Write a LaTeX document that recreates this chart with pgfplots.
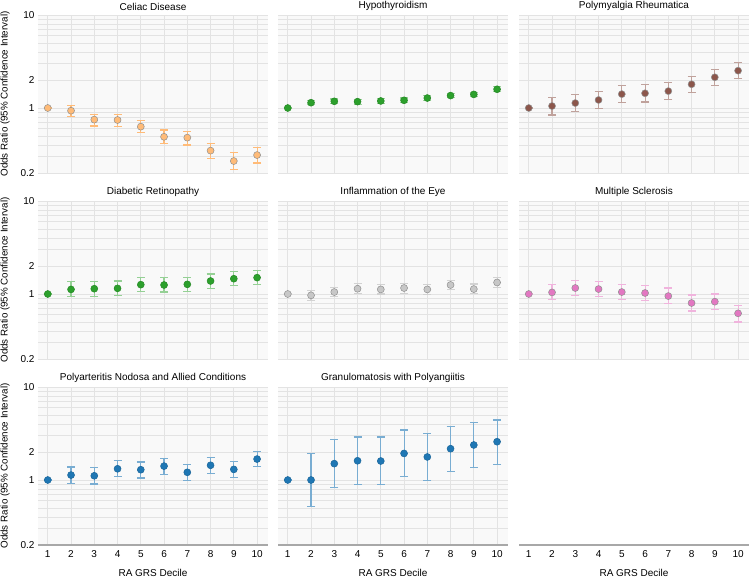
\documentclass[border=0pt]{standalone}
\usepackage{fontspec}
\setmainfont{Liberation Sans}
\usepackage{pgfplots}
\usepackage{pgfplotstable}
\pgfplotsset{compat=1.18}

\definecolor{bgc}{HTML}{F9F9F9}
\definecolor{gridc}{HTML}{E3E3E3}
\definecolor{axc}{HTML}{A8A8A8}
\definecolor{edgec}{HTML}{8F8F8F}
\definecolor{corange}{HTML}{FFBB78}
\definecolor{cgreen}{HTML}{2CA02C}
\definecolor{cbrown}{HTML}{8C564B}
\definecolor{cgray}{HTML}{C7C7C7}
\definecolor{cpink}{HTML}{E377C2}
\definecolor{cblue}{HTML}{1F77B4}

% x = decile, y = odds ratio, lo/hi = 95% CI
\pgfplotstableread{
x y lo hi
1 1.00 1.00 1.00
2 0.936 0.81 1.07
3 0.75 0.64 0.855
4 0.743 0.635 0.855
5 0.63 0.54 0.737
6 0.49 0.417 0.58
7 0.48 0.40 0.56
8 0.348 0.288 0.417
9 0.269 0.217 0.334
10 0.312 0.256 0.38
}\tabceliac
\pgfplotstableread{
x y lo hi
1 1.00 1.00 1.00
2 1.14 1.08 1.21
3 1.18 1.11 1.25
4 1.17 1.10 1.24
5 1.19 1.12 1.26
6 1.21 1.14 1.28
7 1.28 1.21 1.35
8 1.36 1.29 1.43
9 1.40 1.33 1.48
10 1.59 1.50 1.69
}\tabhypo
\pgfplotstableread{
x y lo hi
1 1.00 1.00 1.00
2 1.05 0.84 1.31
3 1.13 0.91 1.39
4 1.22 0.98 1.52
5 1.41 1.14 1.74
6 1.44 1.16 1.77
7 1.52 1.24 1.88
8 1.80 1.47 2.20
9 2.14 1.75 2.60
10 2.52 2.07 3.07
}\tabpmr
\pgfplotstableread{
x y lo hi
1 1.00 1.00 1.00
2 1.12 0.936 1.35
3 1.14 0.95 1.36
4 1.15 0.96 1.38
5 1.26 1.06 1.50
6 1.25 1.05 1.49
7 1.27 1.07 1.52
8 1.38 1.15 1.64
9 1.46 1.23 1.74
10 1.50 1.26 1.78
}\tabretino
\pgfplotstableread{
x y lo hi
1 1.00 1.00 1.00
2 0.967 0.855 1.086
3 1.05 0.93 1.18
4 1.14 1.01 1.29
5 1.12 1.00 1.26
6 1.16 1.02 1.30
7 1.12 0.98 1.26
8 1.25 1.11 1.41
9 1.13 1.01 1.28
10 1.33 1.18 1.50
}\tabeye
\pgfplotstableread{
x y lo hi
1 1.00 1.00 1.00
2 1.04 0.87 1.26
3 1.16 0.96 1.39
4 1.13 0.94 1.36
5 1.05 0.87 1.26
6 1.025 0.85 1.23
7 0.95 0.79 1.16
8 0.80 0.656 0.975
9 0.827 0.68 1.00
10 0.62 0.50 0.76
}\tabms
\pgfplotstableread{
x y lo hi
1 1.00 1.00 1.00
2 1.13 0.92 1.38
3 1.11 0.905 1.37
4 1.32 1.086 1.61
5 1.29 1.05 1.56
6 1.41 1.15 1.71
7 1.21 0.99 1.47
8 1.44 1.18 1.75
9 1.30 1.07 1.57
10 1.68 1.40 2.02
}\tabpan
\pgfplotstableread{
x y lo hi
1 1.00 1.00 1.00
2 1.00 0.52 1.93
3 1.50 0.83 2.73
4 1.61 0.90 2.90
5 1.60 0.89 2.90
6 1.93 1.10 3.45
7 1.77 0.99 3.15
8 2.17 1.24 3.77
9 2.38 1.37 4.13
10 2.58 1.47 4.42
}\tabgpa

\begin{document}
\begin{tikzpicture}
\path[use as bounding box] (0,0) rectangle (750pt,-578pt);

% ---------- row 1 ----------
\begin{axis}[anchor=north west, at={(38pt,-15pt)},
    scale only axis, width=230pt, height=158pt,
    ymode=log, ymin=0.2, ymax=10, xmin=0.58, xmax=10.47,
    xtick={1,2,3,4,5,6,7,8,9,10}, xticklabels={},
    ytick={0.2,1,2,10}, yticklabels={0.2,1,2,10},
    minor ytick={0.3,0.4,0.5,0.6,0.7,0.8,0.9,3,4,5,6,7,8,9},
    grid=both, major grid style={gridc, line width=0.9pt}, minor grid style={gridc, line width=0.7pt},
    axis background/.style={fill=bgc}, axis line style={draw=none},
    major tick length=0pt, minor tick length=0pt, clip=false,
    title style={font=\fontsize{10}{12}\selectfont, yshift=-5pt},
    tick label style={font=\fontsize{10}{12}\selectfont},
    ylabel={Odds Ratio (95\% Confidence Interval)},
    ylabel style={font=\fontsize{9.8}{11}\selectfont, at={(axis description cs:-0.1435,0.5)}, anchor=center},
    title={Celiac Disease}]
\addplot[only marks, mark=*, mark size=3.5pt, mark options={fill=corange, draw=edgec, line width=0.5pt},
  error bars/.cd, y dir=both, y explicit, error mark=-,
  error bar style={corange, line width=1.1pt},
  error mark options={rotate=90, corange, line width=1.1pt, mark size=4pt}]
  table[x=x, y=y, y error plus expr=\thisrow{hi}-\thisrow{y}, y error minus expr=\thisrow{y}-\thisrow{lo}] {\tabceliac};
\end{axis}

\begin{axis}[anchor=north west, at={(278pt,-15pt)},
    scale only axis, width=230pt, height=158pt,
    ymode=log, ymin=0.2, ymax=10, xmin=0.58, xmax=10.47,
    xtick={1,2,3,4,5,6,7,8,9,10}, xticklabels={},
    ytick={0.2,1,2,10}, yticklabels={},
    minor ytick={0.3,0.4,0.5,0.6,0.7,0.8,0.9,3,4,5,6,7,8,9},
    grid=both, major grid style={gridc, line width=0.9pt}, minor grid style={gridc, line width=0.7pt},
    axis background/.style={fill=bgc}, axis line style={draw=none},
    major tick length=0pt, minor tick length=0pt, clip=false,
    title style={font=\fontsize{10}{12}\selectfont, yshift=-5pt},
    title={Hypothyroidism}]
\addplot[only marks, mark=*, mark size=3.5pt, mark options={fill=cgreen, draw=cgreen!85!black, line width=0.5pt},
  error bars/.cd, y dir=both, y explicit, error mark=-,
  error bar style={cgreen!45, line width=1.1pt},
  error mark options={rotate=90, cgreen!45, line width=1.1pt, mark size=4pt}]
  table[x=x, y=y, y error plus expr=\thisrow{hi}-\thisrow{y}, y error minus expr=\thisrow{y}-\thisrow{lo}] {\tabhypo};
\end{axis}

\begin{axis}[anchor=north west, at={(519pt,-15pt)},
    scale only axis, width=230pt, height=158pt,
    ymode=log, ymin=0.2, ymax=10, xmin=0.58, xmax=10.47,
    xtick={1,2,3,4,5,6,7,8,9,10}, xticklabels={},
    ytick={0.2,1,2,10}, yticklabels={},
    minor ytick={0.3,0.4,0.5,0.6,0.7,0.8,0.9,3,4,5,6,7,8,9},
    grid=both, major grid style={gridc, line width=0.9pt}, minor grid style={gridc, line width=0.7pt},
    axis background/.style={fill=bgc}, axis line style={draw=none},
    major tick length=0pt, minor tick length=0pt, clip=false,
    title style={font=\fontsize{10}{12}\selectfont, yshift=-5pt},
    title={Polymyalgia Rheumatica}]
\addplot[only marks, mark=*, mark size=3.5pt, mark options={fill=cbrown, draw=edgec, line width=0.5pt},
  error bars/.cd, y dir=both, y explicit, error mark=-,
  error bar style={cbrown!55, line width=1.1pt},
  error mark options={rotate=90, cbrown!55, line width=1.1pt, mark size=4pt}]
  table[x=x, y=y, y error plus expr=\thisrow{hi}-\thisrow{y}, y error minus expr=\thisrow{y}-\thisrow{lo}] {\tabpmr};
\end{axis}

% ---------- row 2 ----------
\begin{axis}[anchor=north west, at={(38pt,-201pt)},
    scale only axis, width=230pt, height=158pt,
    ymode=log, ymin=0.2, ymax=10, xmin=0.58, xmax=10.47,
    xtick={1,2,3,4,5,6,7,8,9,10}, xticklabels={},
    ytick={0.2,1,2,10}, yticklabels={0.2,1,2,10},
    minor ytick={0.3,0.4,0.5,0.6,0.7,0.8,0.9,3,4,5,6,7,8,9},
    grid=both, major grid style={gridc, line width=0.9pt}, minor grid style={gridc, line width=0.7pt},
    axis background/.style={fill=bgc}, axis line style={draw=none},
    major tick length=0pt, minor tick length=0pt, clip=false,
    title style={font=\fontsize{10}{12}\selectfont, yshift=-5pt},
    tick label style={font=\fontsize{10}{12}\selectfont},
    ylabel={Odds Ratio (95\% Confidence Interval)},
    ylabel style={font=\fontsize{9.8}{11}\selectfont, at={(axis description cs:-0.1435,0.5)}, anchor=center},
    title={Diabetic Retinopathy}]
\addplot[only marks, mark=*, mark size=3.5pt, mark options={fill=cgreen, draw=cgreen!85!black, line width=0.5pt},
  error bars/.cd, y dir=both, y explicit, error mark=-,
  error bar style={cgreen!50, line width=1.1pt},
  error mark options={rotate=90, cgreen!50, line width=1.1pt, mark size=4pt}]
  table[x=x, y=y, y error plus expr=\thisrow{hi}-\thisrow{y}, y error minus expr=\thisrow{y}-\thisrow{lo}] {\tabretino};
\end{axis}

\begin{axis}[anchor=north west, at={(278pt,-201pt)},
    scale only axis, width=230pt, height=158pt,
    ymode=log, ymin=0.2, ymax=10, xmin=0.58, xmax=10.47,
    xtick={1,2,3,4,5,6,7,8,9,10}, xticklabels={},
    ytick={0.2,1,2,10}, yticklabels={},
    minor ytick={0.3,0.4,0.5,0.6,0.7,0.8,0.9,3,4,5,6,7,8,9},
    grid=both, major grid style={gridc, line width=0.9pt}, minor grid style={gridc, line width=0.7pt},
    axis background/.style={fill=bgc}, axis line style={draw=none},
    major tick length=0pt, minor tick length=0pt, clip=false,
    title style={font=\fontsize{10}{12}\selectfont, yshift=-5pt},
    title={Inflammation of the Eye}]
\addplot[only marks, mark=*, mark size=3.5pt, mark options={fill=cgray, draw=edgec, line width=0.5pt},
  error bars/.cd, y dir=both, y explicit, error mark=-,
  error bar style={cgray!80, line width=1.1pt},
  error mark options={rotate=90, cgray!80, line width=1.1pt, mark size=4pt}]
  table[x=x, y=y, y error plus expr=\thisrow{hi}-\thisrow{y}, y error minus expr=\thisrow{y}-\thisrow{lo}] {\tabeye};
\end{axis}

\begin{axis}[anchor=north west, at={(519pt,-201pt)},
    scale only axis, width=230pt, height=158pt,
    ymode=log, ymin=0.2, ymax=10, xmin=0.58, xmax=10.47,
    xtick={1,2,3,4,5,6,7,8,9,10}, xticklabels={},
    ytick={0.2,1,2,10}, yticklabels={},
    minor ytick={0.3,0.4,0.5,0.6,0.7,0.8,0.9,3,4,5,6,7,8,9},
    grid=both, major grid style={gridc, line width=0.9pt}, minor grid style={gridc, line width=0.7pt},
    axis background/.style={fill=bgc}, axis line style={draw=none},
    major tick length=0pt, minor tick length=0pt, clip=false,
    title style={font=\fontsize{10}{12}\selectfont, yshift=-5pt},
    title={Multiple Sclerosis}]
\addplot[only marks, mark=*, mark size=3.5pt, mark options={fill=cpink, draw=edgec, line width=0.5pt},
  error bars/.cd, y dir=both, y explicit, error mark=-,
  error bar style={cpink!55, line width=1.1pt},
  error mark options={rotate=90, cpink!55, line width=1.1pt, mark size=4pt}]
  table[x=x, y=y, y error plus expr=\thisrow{hi}-\thisrow{y}, y error minus expr=\thisrow{y}-\thisrow{lo}] {\tabms};
\end{axis}

% ---------- row 3 ----------
\begin{axis}[anchor=north west, at={(38pt,-387pt)},
    scale only axis, width=230pt, height=158pt,
    ymode=log, ymin=0.2, ymax=10, xmin=0.58, xmax=10.47,
    xtick={1,2,3,4,5,6,7,8,9,10}, xticklabels={1,2,3,4,5,6,7,8,9,10},
    ytick={0.2,1,2,10}, yticklabels={0.2,1,2,10},
    minor ytick={0.3,0.4,0.5,0.6,0.7,0.8,0.9,3,4,5,6,7,8,9},
    grid=both, major grid style={gridc, line width=0.9pt}, minor grid style={gridc, line width=0.7pt},
    axis background/.style={fill=bgc}, axis line style={draw=none},
    major tick length=0pt, minor tick length=0pt, clip=false,
    title style={font=\fontsize{10}{12}\selectfont, yshift=-5pt},
    tick label style={font=\fontsize{10}{12}\selectfont},
    xticklabel style={yshift=-2pt},
    ylabel={Odds Ratio (95\% Confidence Interval)},
    ylabel style={font=\fontsize{9.8}{11}\selectfont, at={(axis description cs:-0.1435,0.5)}, anchor=center},
    xlabel={RA GRS Decile},
    xlabel style={font=\fontsize{10}{12}\selectfont, at={(axis description cs:0.5,0)}, anchor=center, inner sep=0pt, yshift=-27.5pt},
    title={Polyarteritis Nodosa and Allied Conditions}]
\addplot[only marks, mark=*, mark size=3.5pt, mark options={fill=cblue, draw=cblue!85!black, line width=0.5pt},
  error bars/.cd, y dir=both, y explicit, error mark=-,
  error bar style={cblue!60, line width=1.1pt},
  error mark options={rotate=90, cblue!60, line width=1.1pt, mark size=4pt}]
  table[x=x, y=y, y error plus expr=\thisrow{hi}-\thisrow{y}, y error minus expr=\thisrow{y}-\thisrow{lo}] {\tabpan};
\draw[axc, line width=1.6pt] (rel axis cs:0,0) -- (rel axis cs:1,0);
\end{axis}

\begin{axis}[anchor=north west, at={(278pt,-387pt)},
    scale only axis, width=230pt, height=158pt,
    ymode=log, ymin=0.2, ymax=10, xmin=0.58, xmax=10.47,
    xtick={1,2,3,4,5,6,7,8,9,10}, xticklabels={1,2,3,4,5,6,7,8,9,10},
    ytick={0.2,1,2,10}, yticklabels={},
    minor ytick={0.3,0.4,0.5,0.6,0.7,0.8,0.9,3,4,5,6,7,8,9},
    grid=both, major grid style={gridc, line width=0.9pt}, minor grid style={gridc, line width=0.7pt},
    axis background/.style={fill=bgc}, axis line style={draw=none},
    major tick length=0pt, minor tick length=0pt, clip=false,
    title style={font=\fontsize{10}{12}\selectfont, yshift=-5pt},
    tick label style={font=\fontsize{10}{12}\selectfont},
    xticklabel style={yshift=-2pt},
    xlabel={RA GRS Decile},
    xlabel style={font=\fontsize{10}{12}\selectfont, at={(axis description cs:0.5,0)}, anchor=center, inner sep=0pt, yshift=-27.5pt},
    title={Granulomatosis with Polyangiitis}]
\addplot[only marks, mark=*, mark size=3.5pt, mark options={fill=cblue, draw=cblue!85!black, line width=0.5pt},
  error bars/.cd, y dir=both, y explicit, error mark=-,
  error bar style={cblue!60, line width=1.1pt},
  error mark options={rotate=90, cblue!60, line width=1.1pt, mark size=4pt}]
  table[x=x, y=y, y error plus expr=\thisrow{hi}-\thisrow{y}, y error minus expr=\thisrow{y}-\thisrow{lo}] {\tabgpa};
\draw[axc, line width=1.6pt] (rel axis cs:0,0) -- (rel axis cs:1,0);
\end{axis}

% empty third panel: only the decile axis
\begin{axis}[anchor=north west, at={(519pt,-387pt)},
    scale only axis, width=230pt, height=158pt,
    ymode=log, ymin=0.2, ymax=10, xmin=0.58, xmax=10.47,
    xtick={1,2,3,4,5,6,7,8,9,10}, xticklabels={1,2,3,4,5,6,7,8,9,10},
    ytick=\empty, axis line style={draw=none},
    major tick length=0pt, clip=false,
    tick label style={font=\fontsize{10}{12}\selectfont},
    xticklabel style={yshift=-2pt},
    xlabel={RA GRS Decile},
    xlabel style={font=\fontsize{10}{12}\selectfont, at={(axis description cs:0.5,0)}, anchor=center, inner sep=0pt, yshift=-27.5pt}]
\draw[axc, line width=1.6pt] (rel axis cs:0,0) -- (rel axis cs:1,0);
\end{axis}
\end{tikzpicture}
\end{document}
